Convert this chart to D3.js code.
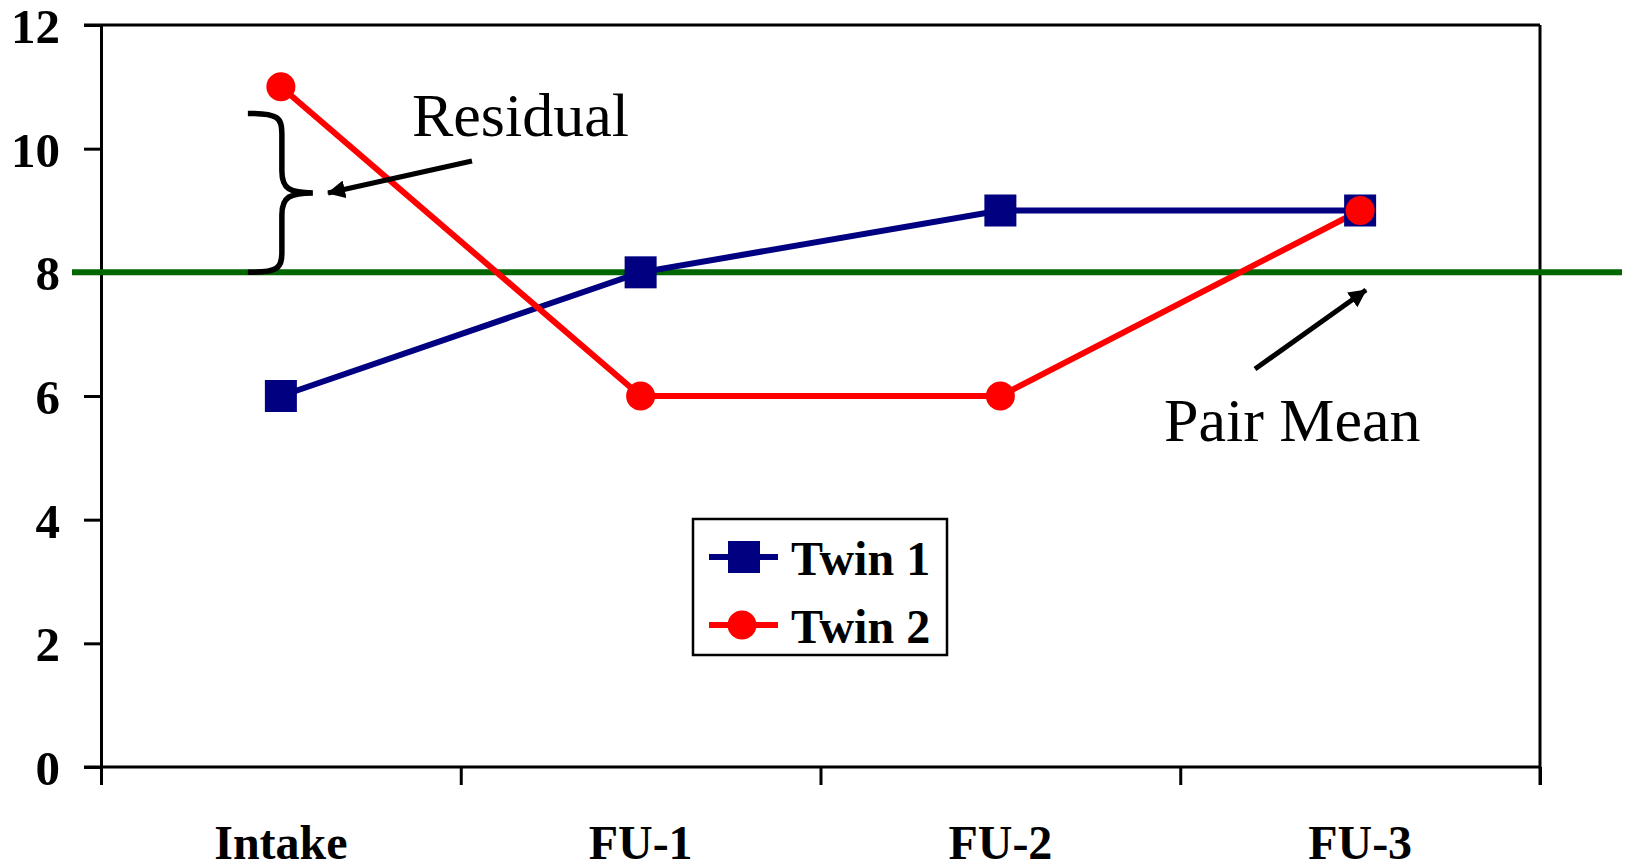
<!DOCTYPE html>
<html>
<head>
<meta charset="utf-8">
<script src="https://cdn.jsdelivr.net/npm/d3@7/dist/d3.min.js"></script>
<style>
  html, body { margin: 0; padding: 0; background: #fff; }
  svg { display: block; }
</style>
</head>
<body>
<svg id="chart" width="1626" height="865"></svg>
<script>
// ---- data ----
const categories = ["Intake", "FU-1", "FU-2", "FU-3"];
const twin1 = [6, 8, 9, 9];
const twin2 = [11, 6, 6, 9];
const pairMean = 8;
const yTicks = [0, 2, 4, 6, 8, 10, 12];
const seriesNames = ["Twin 1", "Twin 2"];
const residualTop = 10.57;   // upper end of the residual brace (value units)

// ---- layout ----
const svg = d3.select("#chart");
const plot = { left: 101, right: 1540, top: 25, bottom: 767 };
const font = "'Liberation Serif', 'Times New Roman', serif";
const navy = "#000080", red = "#ff0000", green = "#006600";
const axisW = 3, seriesW = 6;

const x = d3.scaleBand().domain(categories).range([plot.left, plot.right]).padding(0);
const xc = c => x(c) + x.bandwidth() / 2;
const xEdge = d3.scaleLinear().domain([0, categories.length]).range([plot.left, plot.right]);
const y = d3.scaleLinear().domain([0, 12]).range([plot.bottom, plot.top]);

// ---- frame (top and right border) ----
svg.append("line")
  .attr("x1", plot.left - 17).attr("x2", plot.right)
  .attr("y1", y(12)).attr("y2", y(12))
  .attr("stroke", "#000").attr("stroke-width", axisW);
svg.append("line")
  .attr("x1", plot.right).attr("x2", plot.right)
  .attr("y1", plot.top).attr("y2", plot.bottom + 18)
  .attr("stroke", "#000").attr("stroke-width", axisW);

// ---- y axis ----
const yAxis = svg.append("g")
  .attr("transform", `translate(${plot.left},0)`)
  .call(d3.axisLeft(y).tickValues(yTicks).tickSize(17).tickSizeOuter(0).tickPadding(24));
yAxis.selectAll("path, line").attr("stroke", "#000").attr("stroke-width", axisW);
yAxis.selectAll("text")
  .attr("font-family", font).attr("font-weight", "bold").attr("font-size", 49)
  .attr("fill", "#000").attr("dy", "0.36em");

// ---- x axis: boundary ticks + centred category labels ----
const xTicksAxis = svg.append("g")
  .attr("transform", `translate(0,${plot.bottom})`)
  .call(d3.axisBottom(xEdge).tickValues(d3.range(categories.length + 1))
    .tickSize(18).tickSizeOuter(0).tickFormat(""));
xTicksAxis.selectAll("path, line").attr("stroke", "#000").attr("stroke-width", axisW);
xTicksAxis.select(".domain").attr("d", `M${plot.left - 17},0H${plot.right}`);

const xLabels = svg.append("g")
  .attr("transform", `translate(0,${plot.bottom})`)
  .call(d3.axisBottom(x).tickSize(0).tickPadding(58));
xLabels.select(".domain").remove();
xLabels.selectAll("text")
  .attr("font-family", font).attr("font-weight", "bold").attr("font-size", 48)
  .attr("fill", "#000");

// ---- pair mean reference line ----
svg.append("line")
  .attr("x1", 72).attr("x2", 1622)
  .attr("y1", y(pairMean)).attr("y2", y(pairMean))
  .attr("stroke", green).attr("stroke-width", 6);

// ---- series ----
const line = d3.line().x((d, i) => xc(categories[i])).y(d => y(d));

svg.append("path").datum(twin1)
  .attr("d", line).attr("fill", "none")
  .attr("stroke", navy).attr("stroke-width", seriesW);
svg.append("path").datum(twin2)
  .attr("d", line).attr("fill", "none")
  .attr("stroke", red).attr("stroke-width", seriesW);

const sq = 32, r = 14.5;
svg.append("g").selectAll("rect").data(twin1).join("rect")
  .attr("x", (d, i) => xc(categories[i]) - sq / 2)
  .attr("y", d => y(d) - sq / 2)
  .attr("width", sq).attr("height", sq)
  .attr("fill", navy);
svg.append("g").selectAll("circle").data(twin2).join("circle")
  .attr("cx", (d, i) => xc(categories[i]))
  .attr("cy", d => y(d))
  .attr("r", r)
  .attr("fill", red);

// ---- annotations ----
const defs = svg.append("defs");
defs.append("marker")
  .attr("id", "arrowhead")
  .attr("viewBox", "0 0 18 18")
  .attr("refX", 17).attr("refY", 9)
  .attr("markerWidth", 18).attr("markerHeight", 18)
  .attr("markerUnits", "userSpaceOnUse")
  .attr("orient", "auto")
  .append("path").attr("d", "M0,0L18,9L0,18Z").attr("fill", "#000");

// residual brace next to the intake point
const bx = xc("Intake");
const yTop = y(residualTop), yBot = y(pairMean), yMid = (yTop + yBot) / 2;
const braceLeft = bx - 33, braceStem = bx + 1, braceTip = bx + 32;
svg.append("path")
  .attr("d",
    `M${braceLeft},${yTop}` +
    `C${braceStem - 4},${yTop} ${braceStem},${yTop + 4} ${braceStem},${yTop + 20}` +
    `L${braceStem},${yMid - 22}` +
    `C${braceStem},${yMid - 4} ${braceStem + 8},${yMid} ${braceTip},${yMid}` +
    `C${braceStem + 8},${yMid} ${braceStem},${yMid + 4} ${braceStem},${yMid + 22}` +
    `L${braceStem},${yBot - 20}` +
    `C${braceStem},${yBot - 4} ${braceStem - 4},${yBot} ${braceLeft},${yBot}`)
  .attr("fill", "none").attr("stroke", "#000").attr("stroke-width", 5.5);

svg.append("line")
  .attr("x1", 472).attr("y1", 161)
  .attr("x2", 328).attr("y2", 193)
  .attr("stroke", "#000").attr("stroke-width", 5)
  .attr("marker-end", "url(#arrowhead)");
svg.append("text")
  .attr("x", 412).attr("y", 136)
  .attr("font-family", font).attr("font-size", 62).attr("fill", "#000")
  .text("Residual");

svg.append("line")
  .attr("x1", 1255).attr("y1", 369)
  .attr("x2", 1366).attr("y2", 290)
  .attr("stroke", "#000").attr("stroke-width", 5)
  .attr("marker-end", "url(#arrowhead)");
svg.append("text")
  .attr("x", 1164).attr("y", 441)
  .attr("font-family", font).attr("font-size", 62).attr("fill", "#000")
  .text("Pair Mean");

// ---- legend ----
const legend = svg.append("g");
legend.append("rect")
  .attr("x", 693).attr("y", 519).attr("width", 254).attr("height", 136)
  .attr("fill", "#fff").attr("stroke", "#000").attr("stroke-width", 2.5);
const rows = [
  { name: seriesNames[0], color: navy, shape: "square", cy: 557 },
  { name: seriesNames[1], color: red, shape: "circle", cy: 625 }
];
rows.forEach(rw => {
  legend.append("line")
    .attr("x1", 709).attr("x2", 778).attr("y1", rw.cy).attr("y2", rw.cy)
    .attr("stroke", rw.color).attr("stroke-width", seriesW);
  if (rw.shape === "square") {
    legend.append("rect")
      .attr("x", 744 - sq / 2).attr("y", rw.cy - sq / 2)
      .attr("width", sq).attr("height", sq).attr("fill", rw.color);
  } else {
    legend.append("circle")
      .attr("cx", 742).attr("cy", rw.cy).attr("r", r).attr("fill", rw.color);
  }
  legend.append("text")
    .attr("x", 791).attr("y", rw.cy + 18)
    .attr("font-family", font).attr("font-weight", "bold").attr("font-size", 48)
    .attr("fill", "#000").text(rw.name);
});
</script>
</body>
</html>
